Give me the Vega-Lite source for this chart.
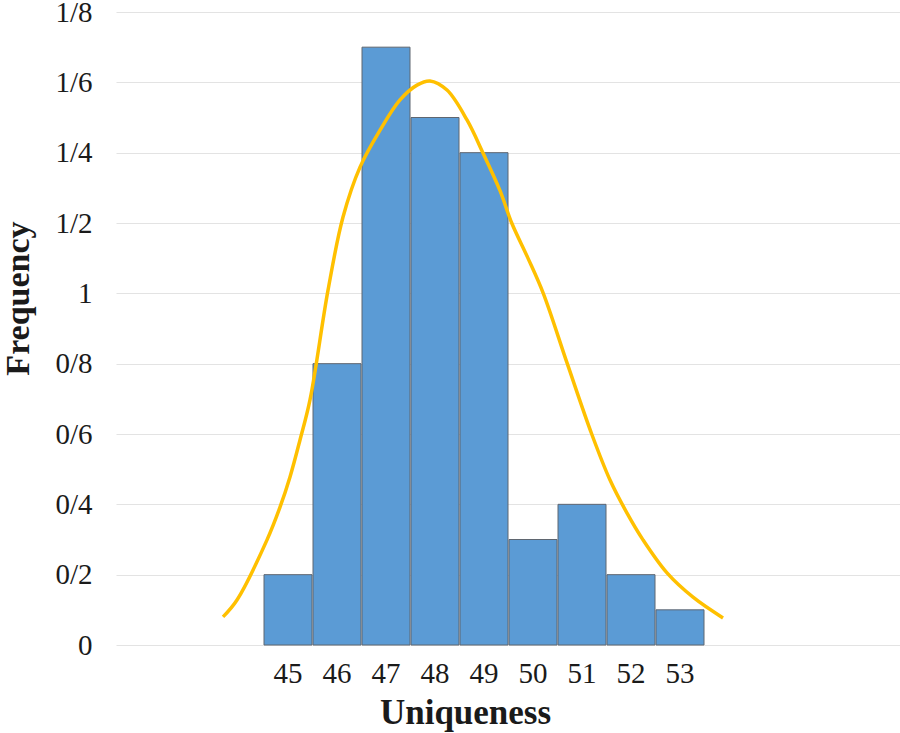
{
  "$schema": "https://vega.github.io/schema/vega-lite/v6.json",
  "width": 784,
  "height": 633,
  "autosize": {"type": "none"},
  "padding": {"left": 116, "top": 12, "right": 0, "bottom": 88},
  "background": "white",
  "config": {
    "view": {"stroke": null},
    "font": "Liberation Serif"
  },
  "datasets": {
    "bars": [
      {"start": 44.5, "end": 45.5, "uniqueness": 45, "frequency": 0.2},
      {"start": 45.5, "end": 46.5, "uniqueness": 46, "frequency": 0.8},
      {"start": 46.5, "end": 47.5, "uniqueness": 47, "frequency": 1.7},
      {"start": 47.5, "end": 48.5, "uniqueness": 48, "frequency": 1.5},
      {"start": 48.5, "end": 49.5, "uniqueness": 49, "frequency": 1.4},
      {"start": 49.5, "end": 50.5, "uniqueness": 50, "frequency": 0.3},
      {"start": 50.5, "end": 51.5, "uniqueness": 51, "frequency": 0.4},
      {"start": 51.5, "end": 52.5, "uniqueness": 52, "frequency": 0.2},
      {"start": 52.5, "end": 53.5, "uniqueness": 53, "frequency": 0.1}
    ],
    "curve": [
      {"x": 43.684, "y": 0.080},
      {"x": 43.969, "y": 0.128},
      {"x": 44.582, "y": 0.299},
      {"x": 44.847, "y": 0.392},
      {"x": 45.051, "y": 0.478},
      {"x": 45.255, "y": 0.583},
      {"x": 45.459, "y": 0.697},
      {"x": 45.827, "y": 1.009},
      {"x": 46.133, "y": 1.217},
      {"x": 46.480, "y": 1.359},
      {"x": 46.888, "y": 1.464},
      {"x": 47.296, "y": 1.550},
      {"x": 47.643, "y": 1.592},
      {"x": 47.908, "y": 1.604},
      {"x": 48.255, "y": 1.578},
      {"x": 48.663, "y": 1.493},
      {"x": 48.990, "y": 1.399},
      {"x": 49.337, "y": 1.292},
      {"x": 49.576, "y": 1.200},
      {"x": 49.898, "y": 1.103},
      {"x": 50.220, "y": 1.000},
      {"x": 50.710, "y": 0.800},
      {"x": 51.208, "y": 0.600},
      {"x": 51.582, "y": 0.469},
      {"x": 51.929, "y": 0.375},
      {"x": 52.255, "y": 0.299},
      {"x": 52.745, "y": 0.205},
      {"x": 53.276, "y": 0.136},
      {"x": 53.888, "y": 0.077}
    ]
  },
  "layer": [
    {
      "data": {"name": "bars"},
      "mark": {"type": "bar", "fill": "#5B9BD5", "stroke": "#5f6670", "strokeWidth": 1},
      "encoding": {
        "x": {
          "field": "start", "type": "quantitative", "bin": "binned",
          "scale": {"domain": [41.5, 57.5], "nice": false, "zero": false},
          "axis": {
            "title": "Uniqueness",
            "values": [45, 46, 47, 48, 49, 50, 51, 52, 53],
            "format": "d",
            "grid": false, "domain": false, "ticks": false, "tickSize": 0,
            "labelFont": "Liberation Serif", "labelFontSize": 29, "labelColor": "#1a1a1a",
            "labelBaseline": "alphabetic", "labelPadding": 37, "labelFlush": false,
            "titleFont": "Liberation Serif", "titleFontSize": 35, "titleFontWeight": "bold",
            "titleColor": "#1a1a1a", "titleBaseline": "alphabetic", "titleAlign": "center",
            "titleX": 349, "titleY": 78
          }
        },
        "x2": {"field": "end"},
        "y": {
          "field": "frequency", "type": "quantitative",
          "scale": {"domain": [0, 1.8], "nice": false},
          "axis": {
            "title": "Frequency",
            "values": [0, 0.2, 0.4, 0.6, 0.8, 1, 1.2, 1.4, 1.6, 1.8],
            "labelExpr": "replace(format(datum.value, '~g'), '.', '/')",
            "grid": true, "gridColor": "#e3e3e3", "gridWidth": 1,
            "domain": false, "ticks": false, "tickSize": 0,
            "labelFont": "Liberation Serif", "labelFontSize": 29, "labelColor": "#1a1a1a",
            "labelPadding": 24, "labelBaseline": "middle", "labelFlush": false,
            "titleFont": "Liberation Serif", "titleFontSize": 34, "titleFontWeight": "bold",
            "titleColor": "#1a1a1a", "titleAngle": -90, "titleBaseline": "alphabetic",
            "titleAlign": "center", "titleX": -88, "titleY": 286
          }
        }
      }
    },
    {
      "data": {"name": "curve"},
      "mark": {"type": "line", "color": "#FFC000", "strokeWidth": 3.5, "interpolate": "catmull-rom"},
      "encoding": {
        "x": {"field": "x", "type": "quantitative"},
        "y": {"field": "y", "type": "quantitative"}
      }
    }
  ]
}
